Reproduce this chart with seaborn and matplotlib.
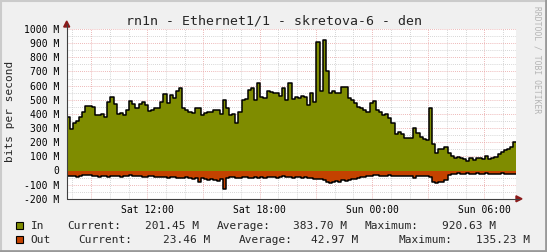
import numpy as np
import pandas as pd
import matplotlib
matplotlib.use("Agg")
import matplotlib.pyplot as plt
import seaborn as sns
from matplotlib.ticker import MultipleLocator, FixedLocator
from matplotlib.patches import Rectangle, Polygon
from matplotlib.lines import Line2D

# ---------------- data ----------------
start_hour = 7.7          # hours after Sat 00:00 of first sample
step_hours = 1 / 6        # 10-minute samples
in_mbps = [
    380, 290, 333, 347, 380, 411, 455, 455, 450, 392,
    392, 400, 380, 482, 520, 473, 400, 403, 390, 427,
    490, 467, 440, 467, 486, 462, 420, 430, 440, 445,
    482, 540, 475, 533, 510, 565, 581, 440, 425, 410,
    403, 443, 443, 395, 403, 410, 415, 427, 425, 400,
    500, 440, 390, 396, 335, 410, 500, 505, 569, 581,
    500, 616, 520, 510, 560, 557, 545, 545, 529, 581,
    498, 616, 505, 522, 510, 529, 522, 462, 545, 486,
    905, 560, 920, 700, 545, 560, 545, 550, 593, 593,
    510, 500, 480, 450, 440, 430, 410, 475, 491, 427,
    411, 392, 400, 368, 333, 260, 270, 260, 227, 230,
    232, 300, 265, 240, 222, 215, 440, 190, 125, 150,
    150, 164, 125, 100, 90, 98, 86, 78, 67, 86,
    74, 86, 85, 78, 102, 80, 88, 93, 115, 133,
    145, 150, 165, 201,
]
out_mbps = [
    38, 42, 40, 45, 36, 33, 30, 32, 38, 40,
    44, 42, 38, 45, 40, 36, 42, 45, 40, 38,
    35, 42, 40, 38, 44, 46, 40, 42, 45, 48,
    44, 46, 50, 45, 48, 52, 55, 50, 48, 55,
    60, 52, 78, 55, 62, 70, 58, 65, 75, 60,
    130, 55, 48, 45, 50, 52, 46, 48, 55, 50,
    45, 52, 48, 50, 46, 44, 48, 52, 45, 42,
    44, 48, 50, 46, 45, 50, 48, 52, 55, 58,
    60, 62, 70, 80, 85, 78, 72, 80, 65, 75,
    70, 62, 58, 52, 48, 45, 42, 38, 35, 34,
    36, 40, 38, 34, 36, 38, 40, 42, 38, 36,
    40, 55, 38, 36, 42, 40, 45, 80, 85, 82,
    78, 70, 30, 25, 22, 20, 22, 24, 20, 22,
    24, 20, 22, 25, 20, 22, 24, 26, 22, 20,
    22, 24, 22, 23,
]
x_tick_hours = [12, 18, 24, 30]
x_tick_labels = ["Sat 12:00", "Sat 18:00", "Sun 00:00", "Sun 06:00"]
y_tick_values = list(range(-200, 1001, 100))
series_names = ["In", "Out"]
series_colors = ["#7F8C00", "#C44200"]
legend_current = ["201.45 M", "23.46 M"]
legend_average = ["383.70 M", "42.97 M"]
legend_maximum = ["920.63 M", "135.23 M"]
title = "rn1n - Ethernet1/1 - skretova-6 - den"
y_label = "bits per second"

# ---------------- style ----------------
sns.set_style("white")
plt.rcParams["font.family"] = ["DejaVu Sans Mono"]

W, H = 547, 252
fig = plt.figure(figsize=(W / 100, H / 100), dpi=100)
fig.patch.set_facecolor("#F0F0F0")


def fx(x):
    return x / W


def fy(y):
    return 1 - y / H


ax_l, ax_r, ax_t, ax_b = 66.7, 516.3, 29.0, 198.8
ax = fig.add_axes([fx(ax_l), fy(ax_b), fx(ax_r) - fx(ax_l), (ax_b - ax_t) / H])
ax.set_facecolor("white")

n = len(in_mbps)
t = start_hour + np.arange(n + 1) * step_hours
v_in = np.array(in_mbps + [in_mbps[-1]], dtype=float)
v_out = -np.array(out_mbps + [out_mbps[-1]], dtype=float)
df = pd.DataFrame({"t": np.concatenate([t, t]),
                   "v": np.concatenate([v_in, v_out]),
                   "series": ["In"] * (n + 1) + ["Out"] * (n + 1)})

ax.fill_between(t, v_in, 0, step="post", color=series_colors[0], lw=0, zorder=2)
ax.fill_between(t, v_out, 0, step="post", color=series_colors[1], lw=0, zorder=2)
for name in series_names:
    sns.lineplot(data=df[df.series == name], x="t", y="v", drawstyle="steps-post",
                 color="black", lw=1.1, ax=ax, zorder=3, legend=False)

ax.set_xlim(start_hour, start_hour + n * step_hours)
ax.set_ylim(-200, 1000)
ax.set_xlabel("")
ax.set_ylabel("")

# grid
ax.set_axisbelow(True)
major_x = [h for h in range(9, 33, 3)]
ax.xaxis.set_major_locator(FixedLocator(major_x))
ax.xaxis.set_minor_locator(MultipleLocator(1))
ax.set_xticklabels([x_tick_labels[x_tick_hours.index(h)] if h in x_tick_hours else ""
                    for h in major_x])
ax.yaxis.set_major_locator(FixedLocator(y_tick_values))
ax.yaxis.set_minor_locator(MultipleLocator(50))
ax.set_yticklabels(["0" if v == 0 else f"{v} M" for v in y_tick_values])

ax.grid(which="minor", color="#C8C8C8", lw=0.6, ls=(0, (1, 1.5)))
ax.grid(which="major", color="#E8A0A0", lw=0.6, ls=(0, (1, 1.5)))

ax.tick_params(axis="both", which="major", direction="inout", length=4, width=0.6,
               color="#C06060", labelsize=7, labelcolor="black")
ax.tick_params(axis="both", which="minor", direction="inout", length=3, width=0.6,
               color="#909090")
ax.tick_params(axis="y", which="major", pad=3.2)
ax.tick_params(axis="x", which="major", pad=2.8)
for s in ax.spines.values():
    s.set_visible(False)

# axis lines with arrows
axis_col = "#404040"
arrow_col = "#8B1A1A"
fig.add_artist(Line2D([fx(ax_l), fx(ax_l)], [fy(ax_b), fy(24)], color=axis_col, lw=0.8))
fig.add_artist(Line2D([fx(ax_l), fx(519)], [fy(ax_b), fy(ax_b)], color=axis_col, lw=0.8))
fig.add_artist(Polygon([(fx(ax_l), fy(21)), (fx(ax_l - 3), fy(27)), (fx(ax_l + 3), fy(27))],
                       closed=True, color=arrow_col, transform=fig.transFigure))
fig.add_artist(Polygon([(fx(522), fy(ax_b)), (fx(516), fy(ax_b - 3)), (fx(516), fy(ax_b + 3))],
                       closed=True, color=arrow_col, transform=fig.transFigure))

# texts
fig.text(0.5, fy(21), title, ha="center", va="center", fontsize=9.5)
fig.text(fx(10), fy(111.7), y_label, rotation=90, ha="center", va="center", fontsize=8)
fig.text(fx(537.5), fy(60), "RRDTOOL / TOBI OETIKER", rotation=270, ha="center",
         va="center", fontsize=5.8, color="#B4B4B4")

# legend
rows_y = [225.7, 239.7]
cols = [
    [30.7, 67.3, 144.8, 216.3, 293.0, 364.6, 442.4],
    [30.7, 78.5, 163.0, 238.3, 311.2, 398.5, 476.3],
]
for i, name in enumerate(series_names):
    y = rows_y[i]
    fig.add_artist(Rectangle((fx(15.7), fy(y + 3.5)), 7 / W, 7 / H, facecolor=series_colors[i],
                             edgecolor="black", lw=0.8, transform=fig.transFigure))
    texts = [name, "Current:", legend_current[i], "Average:", legend_average[i],
             "Maximum:", legend_maximum[i]]
    for xx, txt in zip(cols[i], texts):
        fig.text(fx(xx), fy(y), txt, ha="left", va="center", fontsize=8)

# 3D-style frame
fig.add_artist(Line2D([0, 1], [fy(0.5), fy(0.5)], color="#CBCBCB", lw=1.5))
fig.add_artist(Line2D([fx(0.5), fx(0.5)], [0, 1], color="#CBCBCB", lw=1.5))
fig.add_artist(Line2D([0, 1], [fy(251), fy(251)], color="#999999", lw=2))
fig.add_artist(Line2D([fx(546), fx(546)], [0, 1], color="#999999", lw=2))

fig.savefig("out.png", dpi=100, facecolor=fig.get_facecolor())
